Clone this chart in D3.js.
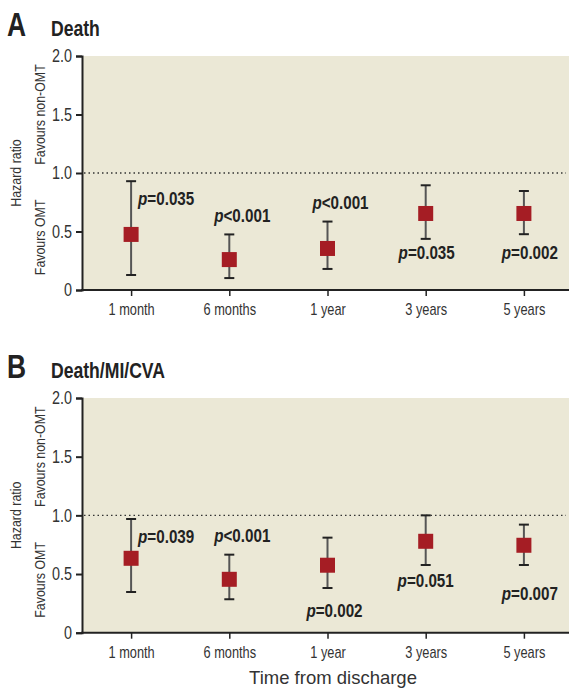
<!DOCTYPE html>
<html>
<head>
<meta charset="utf-8">
<script src="https://cdn.jsdelivr.net/npm/d3@7"></script>
<style>
  body { margin: 0; background: #fff; }
  svg { display: block; }
  text { font-family: "Liberation Sans", Arial, sans-serif; }
</style>
</head>
<body>
<div id="chart"></div>
<script>
// data
var categories = ["1 month", "6 months", "1 year", "3 years", "5 years"];
var yTicks = [0, 0.5, 1.0, 1.5, 2.0];
var yTickLabels = ["0", "0.5", "1.0", "1.5", "2.0"];

var deathHR = [0.475, 0.26, 0.355, 0.654, 0.654];
var deathLow = [0.128, 0.102, 0.18, 0.437, 0.477];
var deathHigh = [0.93, 0.475, 0.585, 0.895, 0.846];
var deathP = ["=0.035", "<0.001", "<0.001", "=0.035", "=0.002"];

var maceHR = [0.634, 0.455, 0.575, 0.779, 0.745];
var maceLow = [0.347, 0.285, 0.381, 0.577, 0.577];
var maceHigh = [0.969, 0.665, 0.81, 1.0, 0.921];
var maceP = ["=0.039", "<0.001", "=0.002", "=0.051", "=0.007"];

// where each p label sits: [dx from point, baseline in HR units, anchor]
var deathLabelPlace = [[7, 0.73, "start"], [13, 0.58, "middle"], [13, 0.69, "middle"], [1, 0.265, "middle"], [6, 0.265, "middle"]];
var maceLabelPlace = [[7, 0.765, "start"], [13, 0.776, "middle"], [7, 0.136, "middle"], [0, 0.39, "middle"], [6, 0.28, "middle"]];

var width = 569, height = 688;
var left = 82, right = 569;
var K = 0.8; // horizontal squeeze to imitate a condensed face

var svg = d3.select("#chart").append("svg")
    .attr("width", width)
    .attr("height", height);

var x = d3.scalePoint()
    .domain(categories)
    .range([left, 573])
    .padding(0.5);

// squeeze texts sideways (no condensed font installed)
function squeeze(sel, k) {
    sel.each(function() {
        var t = d3.select(this);
        var tx = +t.attr("x") || 0;
        var tr = t.attr("transform") || "";
        t.attr("x", tx / k).attr("transform", tr + " scale(" + k + ",1)");
    });
}

function drawPanel(top, bottom, letter, title, hr, low, high, pvals, place) {
    var y = d3.scaleLinear().domain([0, 2]).range([bottom, top]);
    var g = svg.append("g");

    g.append("rect")
        .attr("x", left).attr("y", y(2))
        .attr("width", right - left).attr("height", y(0) - y(2))
        .attr("fill", "#ebe8d6");

    // reference line at 1.0
    g.append("line")
        .attr("x1", left + 2).attr("x2", 566)
        .attr("y1", y(1)).attr("y2", y(1))
        .attr("stroke", "#333").attr("stroke-width", 1.3)
        .attr("stroke-dasharray", "1.5,3");

    // y axis
    var yAxis = d3.axisLeft(y).tickValues(yTicks)
        .tickFormat(function(d, i) { return yTickLabels[i]; })
        .tickSize(6).tickPadding(4);
    var ya = g.append("g").attr("transform", "translate(" + left + ",0)").call(yAxis);
    ya.attr("font-family", null);
    ya.select(".domain").attr("stroke", "#222").attr("stroke-width", 2);
    ya.selectAll(".tick line").attr("stroke", "#222").attr("stroke-width", 2);
    ya.selectAll(".tick text").attr("font-size", 18).attr("fill", "#333").call(squeeze, K);

    // x axis
    var xAxis = d3.axisBottom(x).tickSize(6).tickPadding(8).tickSizeOuter(0);
    var xa = g.append("g").attr("transform", "translate(0," + y(0) + ")").call(xAxis);
    xa.attr("font-family", null);
    xa.select(".domain").attr("d", "M" + (left - 1) + ",0H" + right).attr("stroke", "#222").attr("stroke-width", 2);
    xa.selectAll(".tick line").attr("stroke", "#222").attr("stroke-width", 1.5);
    xa.selectAll(".tick text").attr("font-size", 16).attr("fill", "#333").call(squeeze, K);

    // axis titles
    g.append("text")
        .attr("transform", "translate(21," + y(1) + ") rotate(-90)")
        .attr("text-anchor", "middle").attr("font-size", 15.5).attr("fill", "#333")
        .text("Hazard ratio").call(squeeze, K);
    g.append("text")
        .attr("transform", "translate(45," + y(1.5) + ") rotate(-90)")
        .attr("text-anchor", "middle").attr("font-size", 15.5).attr("fill", "#333")
        .text("Favours non-OMT").call(squeeze, K);
    g.append("text")
        .attr("transform", "translate(45," + y(0.45) + ") rotate(-90)")
        .attr("text-anchor", "middle").attr("font-size", 15.5).attr("fill", "#333")
        .text("Favours OMT").call(squeeze, K);

    // panel title
    g.append("text")
        .attr("x", 7).attr("y", top - 20)
        .attr("font-size", 33).attr("font-weight", "bold").attr("fill", "#222")
        .text(letter).call(squeeze, K);
    g.append("text")
        .attr("x", 51).attr("y", top - 20)
        .attr("font-size", 22).attr("font-weight", "bold").attr("fill", "#222")
        .text(title).call(squeeze, K);

    var pts = categories.map(function(c, i) {
        return { cat: c, hr: hr[i], lo: low[i], hi: high[i], p: pvals[i], place: place[i] };
    });

    var pt = g.selectAll(".pt").data(pts).enter().append("g").attr("class", "pt");

    pt.append("line")
        .attr("x1", function(d) { return x(d.cat); }).attr("x2", function(d) { return x(d.cat); })
        .attr("y1", function(d) { return y(d.lo); }).attr("y2", function(d) { return y(d.hi); })
        .attr("stroke", "#555").attr("stroke-width", 2);
    pt.append("line")
        .attr("x1", function(d) { return x(d.cat) - 5; }).attr("x2", function(d) { return x(d.cat) + 5; })
        .attr("y1", function(d) { return y(d.hi); }).attr("y2", function(d) { return y(d.hi); })
        .attr("stroke", "#222").attr("stroke-width", 2);
    pt.append("line")
        .attr("x1", function(d) { return x(d.cat) - 5; }).attr("x2", function(d) { return x(d.cat) + 5; })
        .attr("y1", function(d) { return y(d.lo); }).attr("y2", function(d) { return y(d.lo); })
        .attr("stroke", "#222").attr("stroke-width", 2);
    pt.append("rect")
        .attr("x", function(d) { return x(d.cat) - 7.5; })
        .attr("y", function(d) { return y(d.hr) - 7.5; })
        .attr("width", 15).attr("height", 15)
        .attr("fill", "#a51d24");

    var lab = pt.append("text")
        .attr("x", function(d) { return x(d.cat) + d.place[0]; })
        .attr("y", function(d) { return y(d.place[1]); })
        .attr("text-anchor", function(d) { return d.place[2]; })
        .attr("font-size", 19).attr("font-weight", "bold").attr("fill", "#222");
    lab.append("tspan").attr("font-style", "italic").text("p");
    lab.append("tspan").text(function(d) { return d.p; });
    lab.call(squeeze, K);
}

drawPanel(56, 290, "A", "Death", deathHR, deathLow, deathHigh, deathP, deathLabelPlace);
drawPanel(398, 632.7, "B", "Death/MI/CVA", maceHR, maceLow, maceHigh, maceP, maceLabelPlace);

svg.append("text")
    .attr("x", 333).attr("y", 684)
    .attr("text-anchor", "middle")
    .attr("font-size", 18.5).attr("fill", "#333")
    .text("Time from discharge");
</script>
</body>
</html>
